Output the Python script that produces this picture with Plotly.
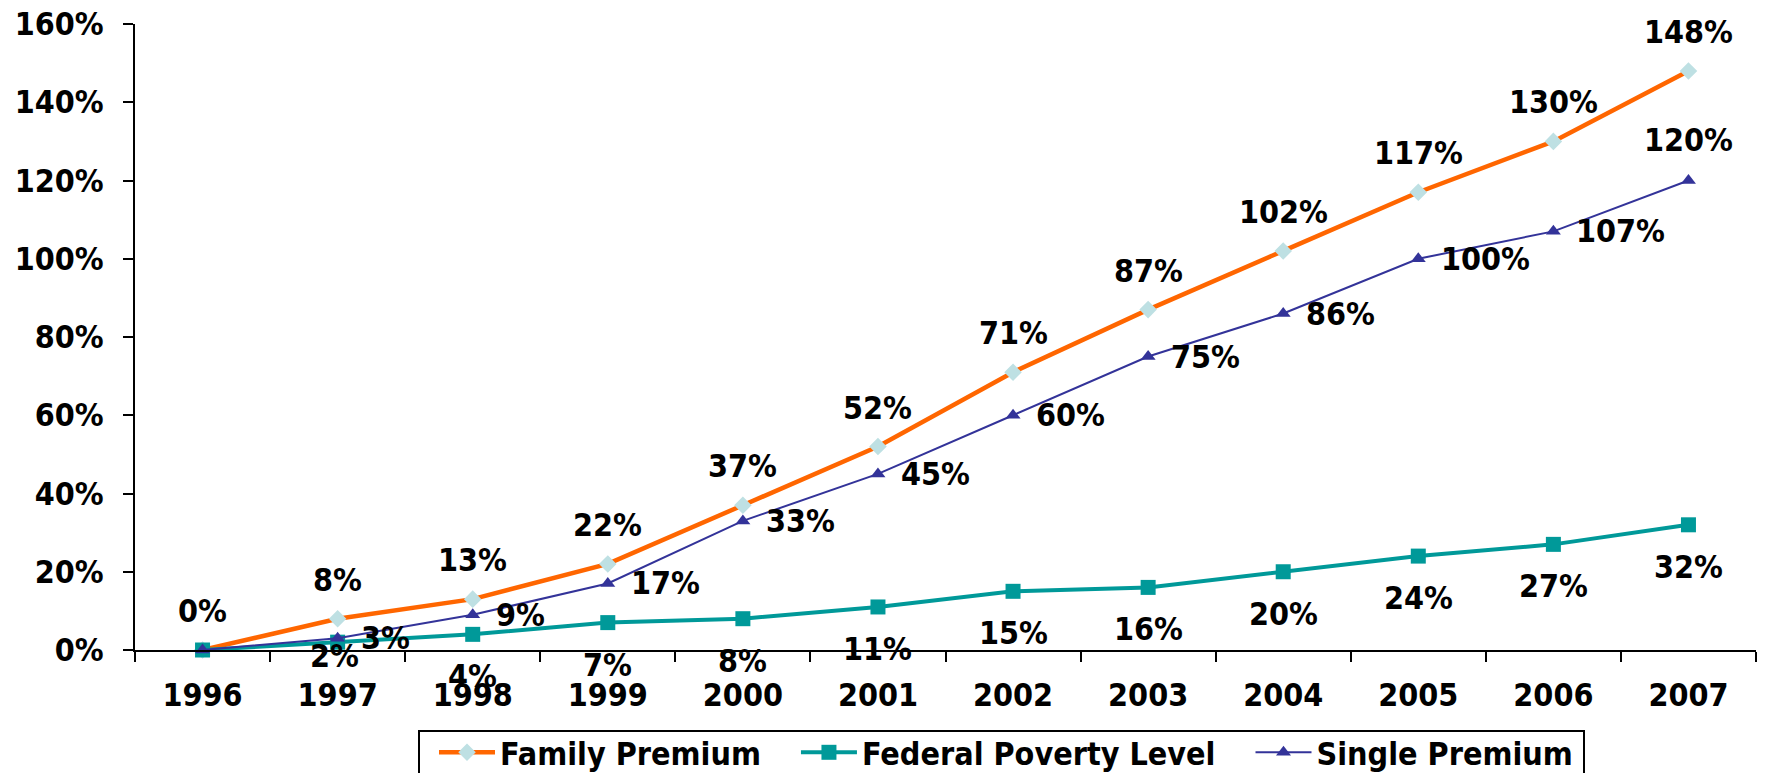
import plotly.graph_objects as go

PCT = "&#37;"  # percent sign as an HTML entity, resolved by plotly.js text rendering


def pct(v):
    return f"{v}{PCT}"


# Cumulative growth since 1996 (percent)
years = ["1996", "1997", "1998", "1999", "2000", "2001", "2002", "2003",
         "2004", "2005", "2006", "2007"]
family_premium = [0, 8, 13, 22, 37, 52, 71, 87, 102, 117, 130, 148]
federal_poverty = [0, 2, 4, 7, 8, 11, 15, 16, 20, 24, 27, 32]
single_premium = [0, 3, 9, 17, 33, 45, 60, 75, 86, 100, 107, 120]
y_ticks = [0, 20, 40, 60, 80, 100, 120, 140, 160]
y_tick_labels = [pct(v) for v in y_ticks]

FONT = "DejaVu Sans Condensed, DejaVu Sans, sans-serif"
ORANGE = "#FF6600"
TEAL = "#009999"
NAVY = "#333399"
ICE = "#BEE0E3"
NBSP = "\u00a0"

fig = go.Figure()
fig.add_trace(go.Scatter(
    x=years, y=family_premium, name="Family Premium" + NBSP * 3, mode="lines+markers",
    line=dict(color=ORANGE, width=4.5),
    marker=dict(symbol="diamond", size=13.5, color=ICE, line=dict(width=0)),
    cliponaxis=False,
))
fig.add_trace(go.Scatter(
    x=years, y=federal_poverty, name="Federal Poverty Level" + NBSP * 3, mode="lines+markers",
    line=dict(color=TEAL, width=4),
    marker=dict(symbol="square", size=15, color=TEAL, line=dict(width=0)),
    cliponaxis=False,
))
fig.add_trace(go.Scatter(
    x=years, y=single_premium, name="Single Premium", mode="lines+markers",
    line=dict(color=NAVY, width=2),
    marker=dict(symbol="triangle-up", size=13, color=NAVY, line=dict(width=0)),
    cliponaxis=False,
))

label_font = dict(family=FONT, size=32, color="black")


def value_label(i, v, **kw):
    # positions on the category axis are given by index
    fig.add_annotation(x=i, y=v, xref="x", yref="y", text=f"<b>{pct(v)}</b>",
                       showarrow=False, font=label_font, **kw)


# Family premium: labels above the points
for i, v in enumerate(family_premium):
    value_label(i, v, yshift=39)

# Federal poverty level: labels below the points (first point unlabeled)
for i, v in enumerate(federal_poverty):
    if i == 0:
        continue
    if i == 1:
        value_label(i, v, xshift=-3, yshift=-14)
    else:
        value_label(i, v, yshift=-42)

# Single premium: labels to the right (last one above), first point unlabeled
for i, v in enumerate(single_premium):
    if i == 0:
        continue
    if i == len(years) - 1:
        value_label(i, v, yshift=41)
    else:
        value_label(i, v, xanchor="left", xshift=21)

# Plot area in pixels: x 135..1756, y 24..650
PLOT_L, PLOT_R, PLOT_T, PLOT_B = 135, 1756, 24, 650


def px_x(p):
    return (p - PLOT_L) / (PLOT_R - PLOT_L)


def px_y(p):
    return (PLOT_B - p) / (PLOT_B - PLOT_T)


# Legend frame
fig.add_shape(type="rect", xref="paper", yref="paper",
              x0=px_x(419), x1=px_x(1584), y0=px_y(800), y1=px_y(731),
              line=dict(color="black", width=2), fillcolor="white", layer="below")

fig.update_layout(
    width=1768, height=773,
    margin=dict(l=PLOT_L, r=1768 - PLOT_R, t=PLOT_T, b=773 - PLOT_B, autoexpand=False),
    paper_bgcolor="white", plot_bgcolor="white",
    font=dict(family=FONT, color="black"),
    showlegend=True,
    legend=dict(
        orientation="h", x=px_x(434), xanchor="left", y=px_y(725), yanchor="top",
        borderwidth=0, bgcolor="rgba(0,0,0,0)",
        font=dict(family=FONT, size=32, color="black", weight="bold"),
        itemwidth=56,
    ),
)
fig.update_xaxes(
    type="category", range=[-0.5, 11.5], tickson="boundaries",
    showline=True, linecolor="black", linewidth=2,
    ticks="outside", ticklen=10, tickwidth=2, tickcolor="black",
    showgrid=False, zeroline=False, ticklabelstandoff=16,
    tickfont=dict(family=FONT, size=32, color="black", weight="bold"),
)
fig.update_yaxes(
    range=[0, 160], tickvals=y_ticks, ticktext=y_tick_labels,
    showline=True, linecolor="black", linewidth=2,
    ticks="outside", ticklen=10, tickwidth=2, tickcolor="black",
    showgrid=False, zeroline=False, ticklabelstandoff=13,
    tickfont=dict(family=FONT, size=32, color="black", weight="bold"),
)

fig.write_html("out.html")
